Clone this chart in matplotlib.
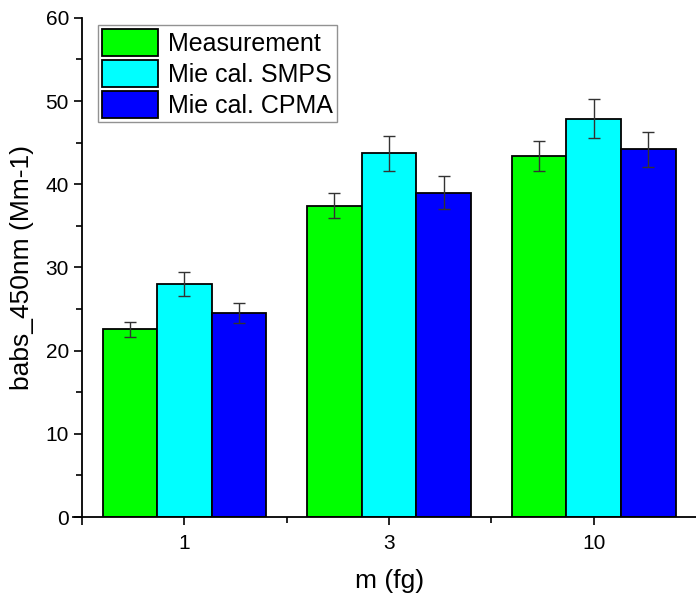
import numpy as np
import matplotlib.pyplot as plt
from matplotlib.ticker import MultipleLocator

plt.rcParams['font.family'] = ['Liberation Sans', 'DejaVu Sans']

# data
categories = ['1', '3', '10']
series = ['Measurement', 'Mie cal. SMPS', 'Mie cal. CPMA']
values = [
    [22.6, 37.4, 43.4],   # Measurement
    [28.0, 43.7, 47.9],   # Mie cal. SMPS
    [24.5, 39.0, 44.2],   # Mie cal. CPMA
]
errors = [
    [0.9, 1.5, 1.8],
    [1.4, 2.1, 2.4],
    [1.2, 2.0, 2.1],
]
colors = ['#00ff00', '#00ffff', '#0000ff']

fig = plt.figure(figsize=(6.96, 5.95), dpi=100)
ax = fig.add_axes([0.118, 0.131, 0.882, 0.839])

x = np.arange(len(categories))
w = 0.8 / 3
for i, name in enumerate(series):
    ax.bar(x + (i - 1) * w, values[i], w, color=colors[i], edgecolor='black',
           linewidth=1.3, label=name)
    ax.errorbar(x + (i - 1) * w, values[i], yerr=errors[i], fmt='none',
                ecolor='#333333', elinewidth=1, capsize=4, capthick=1)

ax.set_xlim(-0.5, 2.5)
ax.set_ylim(0, 60)
ax.set_xticks(x)
ax.set_xticklabels(categories)
ax.set_xticks([-0.5, 0.5, 1.5], minor=True)
ax.yaxis.set_major_locator(MultipleLocator(10))
ax.yaxis.set_minor_locator(MultipleLocator(5))
ax.tick_params(axis='both', which='major', length=6, width=1.2, labelsize=15)
ax.tick_params(axis='x', which='major', pad=6)
ax.tick_params(axis='both', which='minor', length=4, width=1.2)
ax.get_xaxis().get_minor_ticks()[0].tick1line.set_markersize(6)
for s in ['top', 'right']:
    ax.spines[s].set_visible(False)
for s in ['left', 'bottom']:
    ax.spines[s].set_linewidth(1.3)
ax.spines['bottom'].set_bounds(-0.545, 2.5)

ax.set_xlabel('m (fg)', fontsize=19, labelpad=12)
ax.set_ylabel('babs_450nm (Mm-1)', fontsize=19, labelpad=8)

leg = ax.legend(loc='upper left', bbox_to_anchor=(0.026, 0.986), fontsize=18,
                frameon=True, fancybox=False, handlelength=2.25, handleheight=1.3,
                labelspacing=0.16, borderpad=0.15, handletextpad=0.4,
                borderaxespad=0)
leg.get_frame().set_edgecolor('#777777')
leg.get_frame().set_linewidth(1)

fig.savefig('out.png', dpi=100)
